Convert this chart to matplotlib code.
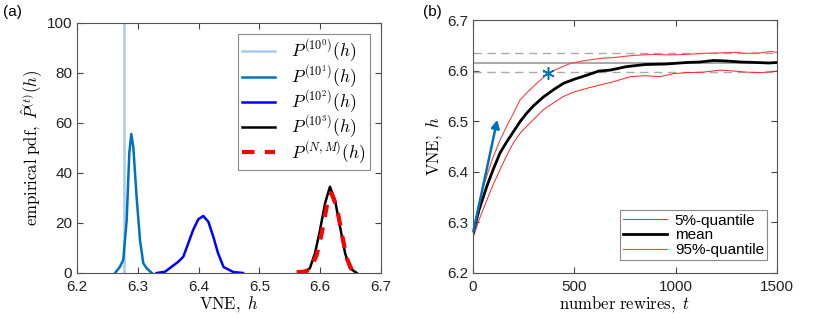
import matplotlib
matplotlib.use("Agg")
import matplotlib.pyplot as plt
import numpy as np

plt.rcParams['font.family'] = ['Liberation Sans', 'DejaVu Sans']
plt.rcParams['mathtext.fontset'] = 'cm'

# panel (a): empirical pdfs
h_1e0 = [6.277, 6.277]
p_1e0 = [0, 110]

h_1e1 = [6.2625, 6.2707, 6.276, 6.2817, 6.286, 6.2893, 6.2926, 6.298, 6.3036, 6.309, 6.3146, 6.323]
p_1e1 = [0, 2.5, 5.2, 21, 48, 55.6, 50.5, 30.5, 13.2, 3.9, 1.9, 0]

h_1e2 = [6.331, 6.3447, 6.3557, 6.3666, 6.3748, 6.383, 6.391, 6.3995, 6.4077, 6.416, 6.4242,
         6.432, 6.441, 6.457, 6.473]
p_1e2 = [0, 0.5, 2.5, 4.5, 6.5, 11.9, 17.2, 21.5, 22.8, 20.5, 14.5, 7.9, 2.4, 0.4, 0]

h_1e3 = [6.570, 6.575, 6.583, 6.5914, 6.5997, 6.608, 6.616, 6.6243, 6.6326, 6.641, 6.649, 6.657, 6.660]
p_1e3 = [0, 0.5, 1.9, 7.9, 17.2, 27.9, 34.5, 29.2, 18.5, 7.9, 1.9, 0.5, 0]

h_nm = [6.5613, 6.572, 6.583, 6.5942, 6.6025, 6.6107, 6.6184, 6.6272, 6.6354, 6.6436, 6.652, 6.6586]
p_nm = [0.3, 0.5, 1.2, 7.2, 15.9, 26.5, 31.9, 26.5, 15.9, 5.9, 1.2, 0.3]

# panel (b): VNE vs number of rewires
t_mean = [0, 30, 68, 100, 133, 166, 199, 232, 265, 300, 348, 400, 447, 500, 562, 620, 677, 760,
          850, 950, 1055, 1120, 1187, 1250, 1320, 1400, 1460, 1500]
h_mean = [6.278, 6.325, 6.371, 6.405, 6.437, 6.459, 6.479, 6.499, 6.516, 6.531, 6.548, 6.563,
          6.575, 6.583, 6.591, 6.599, 6.601, 6.608, 6.612, 6.613, 6.616, 6.617, 6.620, 6.619,
          6.617, 6.616, 6.615, 6.616]

t_q95 = [0, 25, 51, 75, 100, 133, 166, 199, 232, 270, 315, 372, 420, 479, 540, 626, 700, 790,
         890, 970, 1050, 1140, 1220, 1290, 1350, 1420, 1470, 1500]
h_q95 = [6.275, 6.33, 6.371, 6.400, 6.430, 6.462, 6.490, 6.515, 6.542, 6.558, 6.575, 6.595,
         6.604, 6.614, 6.619, 6.624, 6.626, 6.630, 6.632, 6.631, 6.632, 6.634, 6.635, 6.636,
         6.634, 6.635, 6.638, 6.636]

t_q05 = [0, 30, 68, 100, 133, 166, 199, 232, 265, 300, 348, 400, 447, 500, 562, 620, 693, 776,
         850, 923, 990, 1055, 1140, 1220, 1290, 1350, 1420, 1500]
h_q05 = [6.27, 6.305, 6.344, 6.375, 6.404, 6.432, 6.457, 6.476, 6.490, 6.504, 6.523, 6.537,
         6.549, 6.558, 6.565, 6.571, 6.578, 6.588, 6.590, 6.588, 6.594, 6.596, 6.597, 6.601,
         6.599, 6.597, 6.596, 6.599]

h_ref = 6.616
h_ref_lo = 6.598
h_ref_hi = 6.634

fig = plt.figure(figsize=(8.3, 3.18), dpi=100)
ax1 = fig.add_axes([77/830, 1-273/318, 304/830, 250/318])
ax2 = fig.add_axes([473/830, 1-273/318, 304/830, 253/318])

# (a)
ax1.plot(h_1e0, p_1e0, color='#a9cbee', lw=1.8, label=r'$P^{(10^0)}(h)$')
ax1.plot(h_1e1, p_1e1, color='#0072bd', lw=1.8, label=r'$P^{(10^1)}(h)$')
ax1.plot(h_1e2, p_1e2, color='#0000ff', lw=1.8, label=r'$P^{(10^2)}(h)$')
ax1.plot(h_1e3, p_1e3, color='k', lw=1.8, label=r'$P^{(10^3)}(h)$')
ax1.plot(h_nm, p_nm, color='r', lw=3, ls=(0, (3, 2.5)), label=r'$P^{(N,M)}(h)$')
ax1.set_xlim(6.2, 6.7)
ax1.set_ylim(0, 100)
ax1.set_xticks([6.2, 6.3, 6.4, 6.5, 6.6, 6.7])
ax1.set_yticks([0, 20, 40, 60, 80, 100])
ax1.set_xlabel(r'$\mathrm{VNE},\ h$', fontsize=12, labelpad=0)
ax1.set_ylabel(r'$\mathrm{empirical\ pdf},\ \hat{P}^{(t)}(h)$', fontsize=12, labelpad=1)
leg1 = ax1.legend(loc='upper right', bbox_to_anchor=(0.964, 0.956), borderaxespad=0,
                  fontsize=12.5, handlelength=1.9, handletextpad=0.9, fancybox=False,
                  edgecolor='#888888', framealpha=1, borderpad=0.25, labelspacing=-0.05)
leg1.get_frame().set_linewidth(0.8)

# (b)
ax2.axhline(h_ref, color='#999999', lw=1.2)
ax2.axhline(h_ref_lo, color='#aaaaaa', lw=1, ls=(0, (6, 4)))
ax2.axhline(h_ref_hi, color='#aaaaaa', lw=1, ls=(0, (6, 4)))
ax2.plot(t_q05, h_q05, color='#ff2020', lw=0.7, label='5%-quantile')
ax2.plot(t_mean, h_mean, color='k', lw=2, label='mean')
ax2.plot(t_q95, h_q95, color='#ff4040', lw=0.8, label='95%-quantile')
ax2.annotate('', xy=(120, 6.503), xytext=(1.6, 6.282),
             arrowprops=dict(arrowstyle='-|>', color='#0072bd', lw=1.8, mutation_scale=12,
                             shrinkA=0, shrinkB=0))
ax2.plot([369], [6.595], marker=(6, 2, 0), color='#0072bd', ms=9, mew=1.1, ls='none')
ax2.set_xlim(0, 1500)
ax2.set_ylim(6.2, 6.7)
ax2.set_xticks([0, 500, 1000, 1500])
ax2.set_yticks([6.2, 6.3, 6.4, 6.5, 6.6, 6.7])
ax2.set_xlabel(r'$\mathrm{number\ rewires},\ t$', fontsize=12, labelpad=0)
ax2.set_ylabel(r'$\mathrm{VNE},\ h$', fontsize=12, labelpad=2)
leg2 = ax2.legend(loc='lower right', bbox_to_anchor=(0.967, 0.051), borderaxespad=0,
                  fontsize=11, handlelength=2.9, handletextpad=0.5, fancybox=False,
                  edgecolor='#888888', framealpha=1, borderpad=0.2, labelspacing=0.05)
leg2.get_frame().set_linewidth(0.8)

for ax in (ax1, ax2):
    ax.tick_params(direction='in', top=True, right=True, labelsize=11, length=4,
                   color='#444444', labelcolor='#222222')
    ax.tick_params(axis='x', pad=5)
    for s in ax.spines.values():
        s.set_color('#555555')
        s.set_linewidth(0.8)

fig.text(3/830, 1-12/318, '(a)', fontsize=11, va='center')
fig.text(423/830, 1-12/318, '(b)', fontsize=11, va='center')

fig.savefig('out.png', dpi=100)
